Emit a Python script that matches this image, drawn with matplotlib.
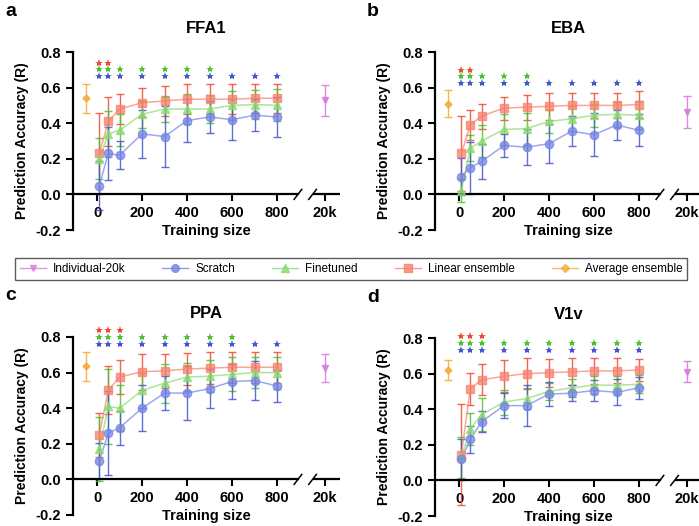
import matplotlib.pyplot as plt
from matplotlib.lines import Line2D

plt.rcParams['font.family'] = ['Liberation Sans', 'DejaVu Sans']
plt.rcParams['font.weight'] = 'bold'

# -------------------------
# dane

sizes = [10, 50, 100, 200, 300, 400, 500, 600, 700, 800]
panels = ["FFA1", "EBA", "PPA", "V1v"]
letters = ["a", "b", "c", "d"]

scratch_mean = {
    "FFA1": [0.05, 0.23, 0.22, 0.34, 0.325, 0.415, 0.435, 0.42, 0.445, 0.435],
    "EBA": [0.10, 0.15, 0.185, 0.275, 0.265, 0.285, 0.355, 0.335, 0.39, 0.36],
    "PPA": [0.105, 0.26, 0.29, 0.40, 0.485, 0.485, 0.51, 0.55, 0.555, 0.525],
    "V1v": [0.12, 0.23, 0.33, 0.42, 0.42, 0.485, 0.49, 0.505, 0.495, 0.52],
}
scratch_err = {
    "FFA1": [0.14, 0.15, 0.08, 0.135, 0.17, 0.12, 0.09, 0.115, 0.09, 0.115],
    "EBA": [0.105, 0.145, 0.10, 0.065, 0.10, 0.11, 0.085, 0.12, 0.085, 0.09],
    "PPA": [0.10, 0.235, 0.095, 0.13, 0.095, 0.15, 0.11, 0.10, 0.11, 0.088],
    "V1v": [0.115, 0.075, 0.06, 0.07, 0.115, 0.068, 0.045, 0.06, 0.072, 0.06],
}
fine_mean = {
    "FFA1": [0.20, 0.34, 0.36, 0.45, 0.48, 0.48, 0.48, 0.50, 0.505, 0.50],
    "EBA": [0.02, 0.26, 0.30, 0.365, 0.37, 0.41, 0.425, 0.445, 0.45, 0.445],
    "PPA": [0.17, 0.41, 0.40, 0.50, 0.54, 0.575, 0.58, 0.59, 0.60, 0.60],
    "V1v": [0.13, 0.29, 0.37, 0.44, 0.46, 0.50, 0.52, 0.535, 0.535, 0.54],
}
fine_err = {
    "FFA1": [0.115, 0.13, 0.09, 0.075, 0.075, 0.085, 0.08, 0.08, 0.08, 0.09],
    "EBA": [0.065, 0.075, 0.09, 0.085, 0.09, 0.065, 0.07, 0.065, 0.07, 0.08],
    "PPA": [0.18, 0.21, 0.13, 0.10, 0.11, 0.08, 0.09, 0.095, 0.085, 0.09],
    "V1v": [0.115, 0.09, 0.095, 0.07, 0.06, 0.05, 0.05, 0.05, 0.05, 0.05],
}
linear_mean = {
    "FFA1": [0.23, 0.41, 0.48, 0.515, 0.525, 0.535, 0.535, 0.535, 0.54, 0.54],
    "EBA": [0.23, 0.39, 0.44, 0.485, 0.49, 0.495, 0.50, 0.50, 0.50, 0.505],
    "PPA": [0.25, 0.50, 0.575, 0.605, 0.61, 0.62, 0.625, 0.63, 0.63, 0.63],
    "V1v": [0.145, 0.515, 0.565, 0.585, 0.60, 0.605, 0.61, 0.615, 0.615, 0.62],
}
linear_err = {
    "FFA1": [0.225, 0.14, 0.085, 0.08, 0.085, 0.085, 0.085, 0.085, 0.08, 0.08],
    "EBA": [0.21, 0.085, 0.07, 0.065, 0.07, 0.075, 0.072, 0.072, 0.072, 0.075],
    "PPA": [0.125, 0.135, 0.095, 0.10, 0.095, 0.09, 0.088, 0.088, 0.088, 0.088],
    "V1v": [0.285, 0.09, 0.088, 0.09, 0.085, 0.078, 0.075, 0.073, 0.07, 0.063],
}
avg_mean = {"FFA1": 0.54, "EBA": 0.51, "PPA": 0.635, "V1v": 0.62}
avg_err = {"FFA1": 0.08, "EBA": 0.075, "PPA": 0.08, "V1v": 0.055}
indiv_mean = {"FFA1": 0.53, "EBA": 0.465, "PPA": 0.625, "V1v": 0.61}
indiv_err = {"FFA1": 0.087, "EBA": 0.09, "PPA": 0.078, "V1v": 0.058}

# gwiazdki istotnosci
stars_red = {"FFA1": [10, 50], "EBA": [10, 50], "PPA": [10, 50, 100], "V1v": [10, 50, 100]}
stars_green = {
    "FFA1": [10, 50, 100, 200, 300, 400, 500],
    "EBA": [10, 50, 100, 200, 300],
    "PPA": [10, 50, 100, 200, 300, 400, 500, 600],
    "V1v": sizes,
}
stars_blue = {p: sizes for p in panels}

c_scr, c_scr_e = "#7484e4", "#4656cc"
c_fin, c_fin_e = "#8ada6e", "#4cc22c"
c_lin, c_lin_e = "#f8806c", "#f04a36"
c_avg = "#f6ad3c"
c_ind = "#d67ede"

x_avg = -50
x_20k = 1012
xmin, xmax = -107, 1080

# -------------------------
# wykres

fig = plt.figure(figsize=(6.99, 5.26), dpi=100)
positions = [(73, 52), (435, 52), (73, 337), (435, 338)]

for p, let, (lx, ty) in zip(panels, letters, positions):
    ax = fig.add_axes([lx / 699, 1 - (ty + 178) / 526, 267 / 699, 178 / 526])
    ax.set_xlim(xmin, xmax)
    ax.set_ylim(-0.2, 0.8)

    for m, e, col, ecol, mk, ms in [
        (linear_mean[p], linear_err[p], c_lin, c_lin_e, "s", 5.5),
        (fine_mean[p], fine_err[p], c_fin, c_fin_e, "^", 5.5),
        (scratch_mean[p], scratch_err[p], c_scr, c_scr_e, "o", 6),
    ]:
        ax.errorbar(sizes, m, yerr=e, fmt="none", ecolor=ecol, elinewidth=1.0,
                    capsize=3, capthick=1.0, alpha=0.85, clip_on=False, zorder=2)
        ax.plot(sizes, m, color=col, lw=1.1, alpha=0.7, zorder=3)
        ax.plot(sizes, m, mk, color=col, ms=ms, alpha=0.75, mec=col, zorder=4)

    ax.errorbar([x_avg], [avg_mean[p]], yerr=[avg_err[p]], fmt="D", color=c_avg,
                ms=3.5, elinewidth=1.0, capsize=3, alpha=0.9)
    ax.errorbar([x_20k], [indiv_mean[p]], yerr=[indiv_err[p]], fmt="v", color=c_ind,
                ms=5, elinewidth=1.0, capsize=3, alpha=0.9)

    # gwiazdki
    top = max(max(a + b for a, b in zip(linear_mean[p], linear_err[p])),
              max(a + b for a, b in zip(fine_mean[p], fine_err[p])),
              max(a + b for a, b in zip(scratch_mean[p], scratch_err[p])))
    for k, (st, col) in enumerate([(stars_blue[p], c_scr_e), (stars_green[p], c_fin_e),
                                   (stars_red[p], c_lin_e)]):
        ax.plot(st, [top + 0.045 + 0.038 * k] * len(st), "*", color=col, ms=6,
                mew=0, clip_on=False)

    # osie
    for s in ["top", "right"]:
        ax.spines[s].set_visible(False)
    ax.spines["left"].set_linewidth(1.6)
    ax.spines["bottom"].set_linewidth(1.6)
    ax.spines["bottom"].set_position(("data", 0))
    ax.spines["bottom"].set_bounds(xmin, 893)
    ax.plot([958, xmax], [0, 0], color="black", lw=1.6, clip_on=False, solid_capstyle="butt")
    for bx in [893, 958]:
        ax.plot([bx - 17, bx + 17], [-0.028, 0.028], color="black", lw=1.1, clip_on=False)

    ax.set_yticks([-0.2, 0.0, 0.2, 0.4, 0.6, 0.8])
    ax.set_yticklabels(["-0.2", "0.0", "0.2", "0.4", "0.6", "0.8"])
    ax.set_xticks([0, 200, 400, 600, 800, x_20k])
    ax.set_xticklabels(["0", "200", "400", "600", "800", "20k"])
    ax.tick_params(axis="both", width=1.5, length=5, labelsize=10.5)
    ax.tick_params(axis="x", pad=3)

    ax.set_ylabel("Prediction Accuracy (R)", fontsize=10, fontweight="bold", labelpad=5)
    ax.set_xlabel("Training size", fontsize=10.5, fontweight="bold")
    ax.xaxis.set_label_coords(0.5, 0.035)
    ax.set_title(p, fontsize=12, fontweight="bold", pad=14)
    ax.text(-68 / 267, 1 + 41 / 178, let, transform=ax.transAxes, fontsize=14,
            fontweight="bold", va="center", ha="left")

handles = [
    Line2D([], [], color=c_ind, marker="v", ms=5, lw=1, alpha=0.8),
    Line2D([], [], color=c_scr, marker="o", ms=5.5, lw=1, alpha=0.8),
    Line2D([], [], color=c_fin, marker="^", ms=5.5, lw=1, alpha=0.8),
    Line2D([], [], color=c_lin, marker="s", ms=5.5, lw=1, alpha=0.8),
    Line2D([], [], color=c_avg, marker="D", ms=4, lw=1, alpha=0.8),
]
labels = ["Individual-20k", "Scratch", "Finetuned", "Linear ensemble", "Average ensemble"]
leg = fig.legend(handles, labels, loc="center", ncol=5, mode="expand",
                 bbox_to_anchor=(15 / 699, 1 - 283 / 526, 672 / 699, 28 / 526),
                 prop={"family": ["Liberation Sans Narrow", "Liberation Sans"],
                       "weight": "normal", "size": 8.5},
                 handlelength=2.2, handletextpad=0.6, fancybox=False, borderaxespad=0)
leg.get_frame().set_edgecolor("#333333")
leg.get_frame().set_linewidth(1.0)

plt.savefig("out.png", dpi=100)
